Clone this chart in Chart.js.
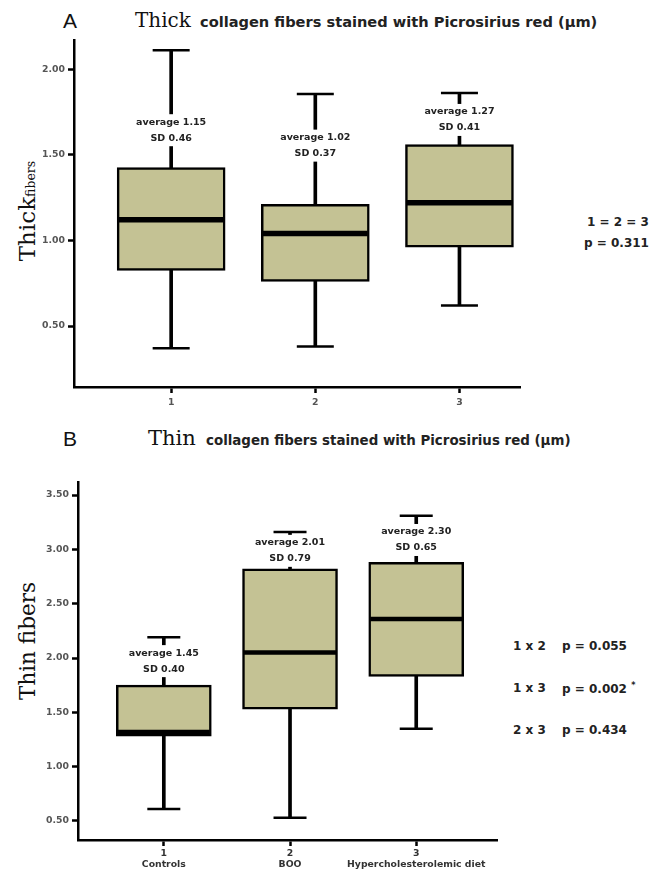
<!DOCTYPE html>
<html>
<head>
<meta charset="utf-8">
<script src="https://cdn.jsdelivr.net/npm/chart.js@4.4.1/dist/chart.umd.min.js"></script>
<style>
  body { margin: 0; background: #fff; width: 662px; height: 870px; position: relative; overflow: hidden; }
  .abs { position: absolute; white-space: nowrap; }
  .panel { font-family: 'Liberation Sans', Arial, sans-serif; font-size: 21px; line-height: 21px; color: #111; }
  .serif { font-family: 'DejaVu Serif', serif; color: #111; }
  .bold { font-family: 'DejaVu Sans', sans-serif; font-weight: bold; color: #222; }
  .ytitle { transform: translate(-50%, -50%) rotate(-90deg); }
  canvas { position: absolute; left: 0; }
</style>
</head>
<body>

<!-- panel A headings -->
<div class="abs panel" style="left:63px; top:10px;">A</div>
<div class="abs serif" style="left:135px; top:10px; font-size:20px; line-height:20px;">Thick</div>
<div class="abs bold" style="left:200px; top:15px; font-size:14.6px; line-height:14.6px;">collagen fibers stained with Picrosirius red (µm)</div>
<div class="abs ytitle" style="left:27px; top:211px;"><span class="serif" style="font-size:23px">Thick</span><span class="serif" style="font-size:12.5px">fibers</span></div>
<div class="abs bold" style="left:587px; top:215px; font-size:12px;">1 = 2 = 3</div>
<div class="abs bold" style="left:584px; top:236px; font-size:12px;">p = 0.311</div>

<!-- panel B headings -->
<div class="abs panel" style="left:63px; top:428px;">B</div>
<div class="abs serif" style="left:148px; top:428px; font-size:21px; line-height:21px;">Thin</div>
<div class="abs bold" style="left:206px; top:434px; font-size:13.4px; line-height:13.4px;">collagen fibers stained with Picrosirius red (µm)</div>
<div class="abs ytitle serif" style="left:27px; top:641px; font-size:21.5px;">Thin fibers</div>
<div class="abs bold" style="left:513px; top:639px; font-size:12px;">1 x 2</div>
<div class="abs bold" style="left:562px; top:639px; font-size:12px;">p = 0.055</div>
<div class="abs bold" style="left:513px; top:681px; font-size:12px;">1 x 3</div>
<div class="abs bold" style="left:562px; top:681px; font-size:12px;">p = 0.002 <sup style="font-size:8px">*</sup></div>
<div class="abs bold" style="left:513px; top:723px; font-size:12px;">2 x 3</div>
<div class="abs bold" style="left:562px; top:723px; font-size:12px;">p = 0.434</div>

<canvas id="chartA" width="662" height="420" style="top:0"></canvas>
<canvas id="chartB" width="662" height="450" style="top:420px"></canvas>

<script>
// groups
const groupsA = ['1', '2', '3'];
const groupsB = ['Controls', 'BOO', 'Hypercholesterolemic diet'];

// A - thick fibers (box plot five numbers)
const minA = [0.37, 0.38, 0.62];
const q1A  = [0.825, 0.76, 0.96];
const medA = [1.12, 1.04, 1.22];
const q3A  = [1.425, 1.21, 1.56];
const maxA = [2.11, 1.855, 1.86];
const avgA = [1.15, 1.02, 1.27];
const sdA  = [0.46, 0.37, 0.41];
const yTicksA = [0.5, 1.0, 1.5, 2.0];

// B - thin fibers
const minB = [0.61, 0.53, 1.35];
const q1B  = [1.28, 1.53, 1.83];
const medB = [1.32, 2.05, 2.36];
const q3B  = [1.75, 2.82, 2.88];
const maxB = [2.19, 3.16, 3.31];
const avgB = [1.45, 2.01, 2.30];
const sdB  = [0.40, 0.79, 0.65];
const yTicksB = [0.5, 1.0, 1.5, 2.0, 2.5, 3.0, 3.5];

const BOX_FILL = '#c4c294';
const TICK_FONT = { family: 'DejaVu Sans', weight: 'bold', size: 9.3 };

// average / SD text over the upper whisker
const boxLabels = {
  id: 'boxLabels',
  afterDatasetsDraw(chart, args, opts) {
    const { ctx, scales: { x, y } } = chart;
    ctx.save();
    ctx.font = 'bold 9.5px "DejaVu Sans"';
    ctx.textAlign = 'center';
    ctx.textBaseline = 'middle';
    opts.avg.forEach((a, i) => {
      const px = x.getPixelForValue(i + 1);
      const py = y.getPixelForValue(opts.at[i]);
      const l1 = 'average ' + a.toFixed(2);
      const l2 = 'SD ' + opts.sd[i].toFixed(2);
      const w = Math.max(ctx.measureText(l1).width, ctx.measureText(l2).width) + 6;
      ctx.fillStyle = '#fff';
      ctx.fillRect(px - w / 2, py - 8, w, opts.gap + 16);
      ctx.fillStyle = '#222';
      ctx.fillText(l1, px, py);
      ctx.fillText(l2, px, py + opts.gap);
    });
    ctx.restore();
  }
};

function boxChart(id, p) {
  const xs = [1, 2, 3];
  return new Chart(document.getElementById(id), {
    type: 'bar',
    data: {
      datasets: [
        { // whisker
          data: xs.map((v, i) => ({ x: v, y: [p.min[i], p.max[i]] })),
          backgroundColor: '#000', barThickness: 3, grouped: false, order: 4
        },
        { // box
          data: xs.map((v, i) => ({ x: v, y: [p.q1[i], p.q3[i]] })),
          backgroundColor: BOX_FILL, borderColor: '#000', borderWidth: 2.5,
          borderSkipped: false, barThickness: p.boxW, grouped: false, order: 3
        },
        { // median
          type: 'scatter',
          data: xs.map((v, i) => ({ x: v, y: p.med[i] })),
          pointStyle: 'line', pointRadius: p.boxW / 2 - 1.5,
          pointBorderColor: '#000', pointBorderWidth: p.medW, order: 2
        },
        { // caps
          type: 'scatter',
          data: xs.flatMap((v, i) => [{ x: v, y: p.min[i] }, { x: v, y: p.max[i] }]),
          pointStyle: 'line', pointRadius: p.capW / 2,
          pointBorderColor: '#000', pointBorderWidth: 2.5, order: 1
        }
      ]
    },
    options: {
      responsive: false,
      animation: false,
      events: [],
      layout: { autoPadding: false, padding: { left: 0, top: p.top, right: p.right, bottom: 0 } },
      plugins: {
        legend: { display: false },
        tooltip: { enabled: false },
        boxLabels: { avg: p.avg, sd: p.sd, at: p.labelAt, gap: 16 }
      },
      scales: {
        x: {
          type: 'linear', min: p.xMin, max: p.xMax, offset: false,
          afterFit: s => { s.height = p.xH; },
          afterBuildTicks: s => { s.ticks = xs.map(v => ({ value: v })); },
          ticks: {
            callback: v => p.xLabel(v), font: TICK_FONT, color: p.xColor,
            padding: p.xPad, maxRotation: 0, autoSkip: false
          },
          grid: { offset: false, drawOnChartArea: false, drawTicks: true, tickLength: 6, tickWidth: 2.5, tickColor: '#000' },
          border: { display: true, color: '#000', width: 2.5 }
        },
        y: {
          min: p.yMin, max: p.yMax,
          afterFit: s => { s.width = p.yW; },
          afterBuildTicks: s => { s.ticks = p.yTicks.map(v => ({ value: v })); },
          ticks: { callback: v => v.toFixed(2), font: TICK_FONT, color: '#555', padding: 3 },
          grid: { drawOnChartArea: false, drawTicks: true, tickLength: 6, tickWidth: 2.5, tickColor: '#000' },
          border: { display: true, color: '#000', width: 2.5 }
        }
      }
    },
    plugins: [boxLabels]
  });
}

boxChart('chartA', {
  min: minA, q1: q1A, med: medA, q3: q3A, max: maxA, avg: avgA, sd: sdA,
  yTicks: yTicksA, labelAt: [1.69, 1.60, 1.75],
  xLabel: v => groupsA[v - 1], xColor: '#555', xPad: 4,
  top: 40, right: 142, yW: 74, xH: 33,
  xMin: 0.326, xMax: 3.42, yMin: 0.144, yMax: 2.17,
  boxW: 108, capW: 37, medW: 5.5
});

boxChart('chartB', {
  min: minB, q1: q1B, med: medB, q3: q3B, max: maxB, avg: avgB, sd: sdB,
  yTicks: yTicksB, labelAt: [2.045, 3.06, 3.16],
  xLabel: v => [String(v), groupsB[v - 1]], xColor: '#333', xPad: 2,
  top: 62, right: 165, yW: 78, xH: 30,
  xMin: 0.32, xMax: 3.64, yMin: 0.325, yMax: 3.62,
  boxW: 95, capW: 33, medW: 4.5
});
</script>
</body>
</html>
